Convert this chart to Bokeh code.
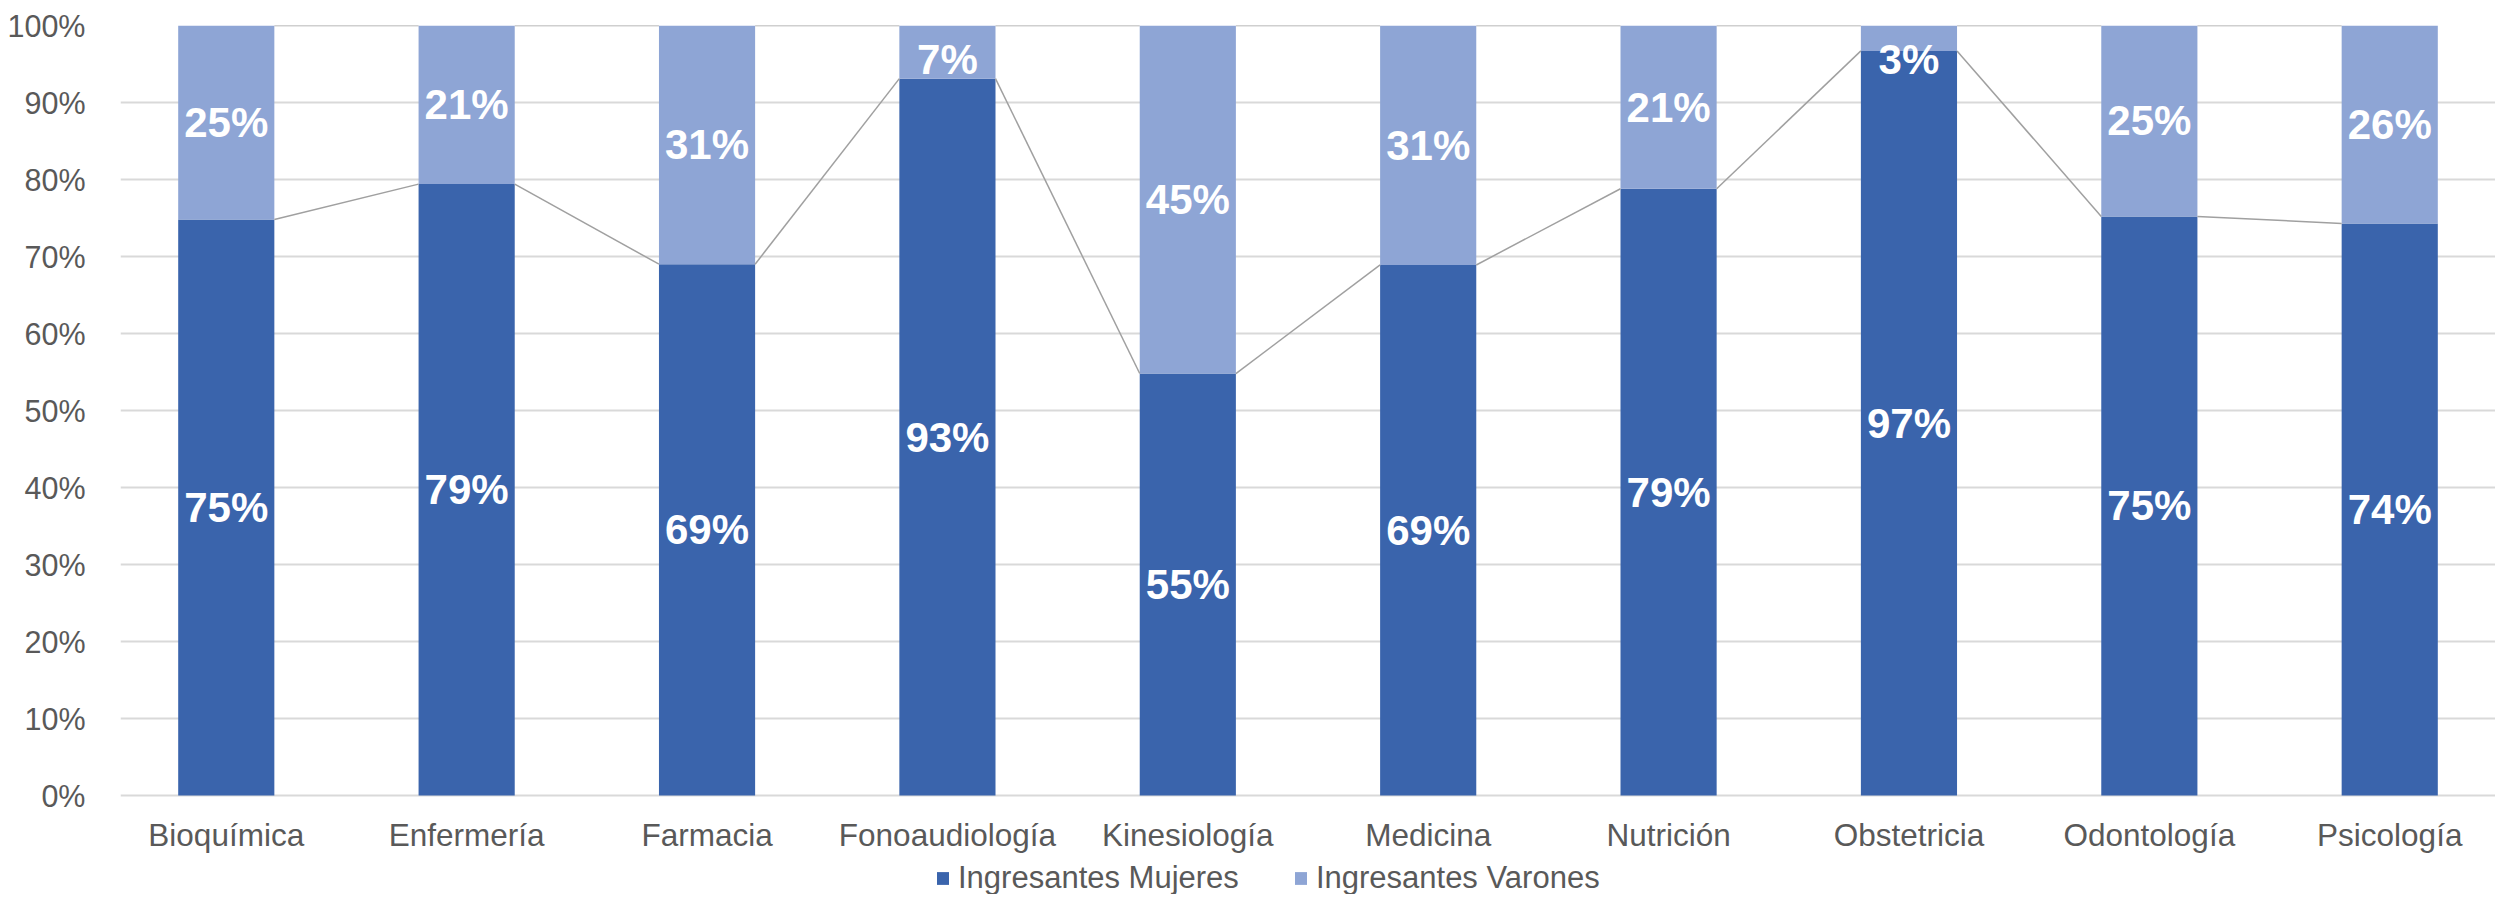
from bokeh.plotting import figure
from bokeh.models import (FactorRange, Range1d, ColumnDataSource, Legend, LegendItem,
                          NumeralTickFormatter, FixedTicker)
from bokeh.transform import dodge
from bokeh.core.properties import value
from bokeh.embed import file_html
from bokeh.resources import INLINE

categories = ["Bioquímica", "Enfermería", "Farmacia", "Fonoaudiología", "Kinesiología",
              "Medicina", "Nutrición", "Obstetricia", "Odontología", "Psicología"]
mujeres = [0.748, 0.794, 0.690, 0.931, 0.548, 0.689, 0.788, 0.967, 0.752, 0.743]
varones = [0.252, 0.206, 0.310, 0.069, 0.452, 0.311, 0.212, 0.033, 0.248, 0.257]
series_names = ["Ingresantes Mujeres", "Ingresantes Varones"]
y_ticks = [0.0, 0.1, 0.2, 0.3, 0.4, 0.5, 0.6, 0.7, 0.8, 0.9, 1.0]

COL_M = "#3A64AC"
COL_V = "#8EA5D5"
TXT = "#595959"
FONT = "Liberation Sans"

# layout (pixels): figure height, top of 100% line, position of 0% line
H, TOP, ZERO = 894, 25, 795
y_min = -(H - ZERO) / (ZERO - TOP)   # extra room under 0% for axis labels + legend

tops = [m + v for m, v in zip(mujeres, varones)]
src = ColumnDataSource(dict(
    cat=categories, m=mujeres, v=varones,
    m_mid=[m / 2 for m in mujeres],
    v_mid=[min(m + v / 2, 0.956) for m, v in zip(mujeres, varones)],
    m_txt=[f"{round(m * 100)}%" for m in mujeres],
    v_txt=[f"{round(v * 100)}%" for v in varones],
))

p = figure(x_range=FactorRange(*categories, range_padding=-0.012),
           y_range=Range1d(y_min, 1),
           width=2495, height=H, output_backend="svg", toolbar_location=None,
           min_border_left=120, min_border_right=0, min_border_top=TOP, min_border_bottom=0)
p.outline_line_color = None
p.background_fill_color = "white"
p.border_fill_color = "white"

# gridlines
p.xgrid.grid_line_color = None
p.ygrid.grid_line_color = "#D9D9D9"
p.ygrid.grid_line_width = 2
p.yaxis.ticker = FixedTicker(ticks=y_ticks)

rs = p.vbar_stack(["m", "v"], x="cat", width=0.4, color=[COL_M, COL_V],
                  line_color=None, source=src)

# series lines
seg_src = ColumnDataSource(dict(
    x0=categories[:-1] + categories[:-1],
    x1=categories[1:] + categories[1:],
    y0=mujeres[:-1] + tops[:-1],
    y1=mujeres[1:] + tops[1:],
))
p.segment(x0=dodge("x0", 0.2, range=p.x_range), y0="y0",
          x1=dodge("x1", -0.2, range=p.x_range), y1="y1",
          source=seg_src, line_color="#A0A0A0", line_width=1.5)

# data labels
for ycol, tcol in (("m_mid", "m_txt"), ("v_mid", "v_txt")):
    p.text(x="cat", y=ycol, text=tcol, source=src, text_color="white",
           text_font=value(FONT), text_font_style="bold", text_font_size="42px",
           text_align="center", text_baseline="middle")

# axes
p.yaxis.formatter = NumeralTickFormatter(format="0%")
for ax in (p.xaxis, p.yaxis):
    ax.axis_line_color = None
    ax.major_tick_line_color = None
    ax.minor_tick_line_color = None
    ax.major_label_text_font = FONT
    ax.major_label_text_color = TXT
p.yaxis.major_label_text_font_size = "30.5px"
p.xaxis.major_label_text_font_size = "31.5px"
p.yaxis.major_label_standoff = 29
p.xaxis.major_label_standoff = 15
p.xaxis.fixed_location = 0

legend = Legend(items=[LegendItem(label=series_names[0], renderers=[rs[0]]),
                       LegendItem(label=series_names[1], renderers=[rs[1]])],
                orientation="horizontal", location=(815, -2),
                glyph_width=15, glyph_height=16, label_standoff=8, spacing=54,
                padding=0, margin=0, border_line_color=None, background_fill_alpha=0,
                label_text_font=FONT, label_text_font_size="31px", label_text_color=TXT)
p.add_layout(legend, "center")

open("out.html", "w").write(file_html(p, INLINE))
